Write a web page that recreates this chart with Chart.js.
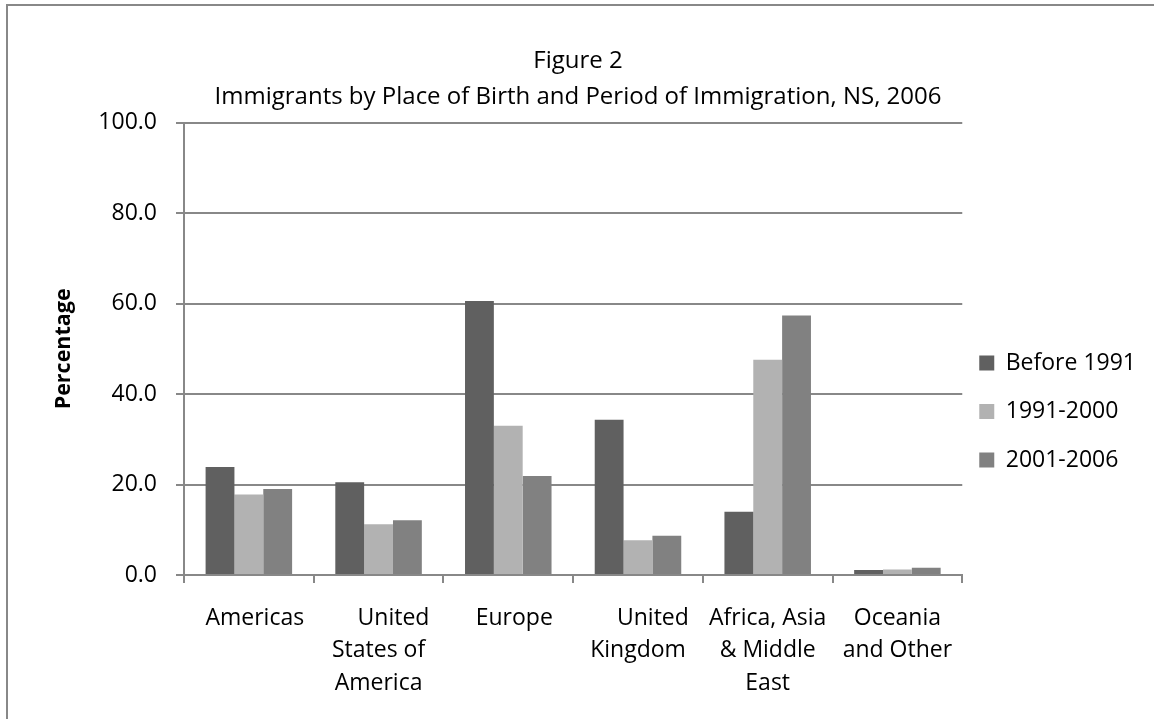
<!DOCTYPE html>
<html>
<head>
<meta charset="utf-8">
<script src="https://cdn.jsdelivr.net/npm/chart.js@4.4.1/dist/chart.umd.min.js"></script>
<style>
html,body{margin:0;padding:0;background:#fff;overflow:hidden;}
#wrap{position:relative;width:1154px;height:719px;}
#frame{position:absolute;left:6px;top:4px;right:-10px;bottom:-10px;border-top:2px solid #888;border-left:2px solid #888;pointer-events:none;}
canvas{display:block;}
</style>
</head>
<body>
<div id="wrap">
<canvas id="c" width="1154" height="719"></canvas>
<div id="frame"></div>
</div>
<script>
const titleLines = ["Figure 2", "Immigrants by Place of Birth and Period of Immigration, NS, 2006"];
const yAxisTitle = "Percentage";
const categories = [
  ["  Americas"],
  ["     United", "States of", "America"],
  ["  Europe"],
  ["     United", "Kingdom"],
  ["Africa, Asia", "& Middle", "East"],
  ["Oceania", "and Other"]
];
const seriesNames = ["Before 1991", "1991-2000", "2001-2006"];
const before1991 = [23.9, 20.5, 60.6, 34.3, 14.0, 1.1];
const p1991to2000 = [17.8, 11.2, 33.0, 7.7, 47.6, 1.2];
const p2001to2006 = [19.0, 12.1, 21.9, 8.7, 57.4, 1.6];
const yMin = 0, yMax = 100, yStep = 20;
const seriesColors = ["#606060", "#b2b2b2", "#818181"];

const FONT = "'Open Sans', 'Liberation Sans', sans-serif";
const GRID = "#888888";

const ctx = document.getElementById('c').getContext('2d');
new Chart(ctx, {
  type: 'bar',
  data: {
    labels: categories,
    datasets: [
      { label: seriesNames[0], data: before1991, backgroundColor: seriesColors[0] },
      { label: seriesNames[1], data: p1991to2000, backgroundColor: seriesColors[1] },
      { label: seriesNames[2], data: p2001to2006, backgroundColor: seriesColors[2] }
    ]
  },
  options: {
    responsive: false,
    animation: false,
    devicePixelRatio: 1,
    layout: { padding: { left: 10, right: 8, top: 0, bottom: 0 } },
    datasets: { bar: { categoryPercentage: 0.667, barPercentage: 1.0, borderWidth: 0 } },
    plugins: {
      tooltip: { enabled: false },
      title: {
        display: true,
        text: titleLines,
        color: '#000',
        font: { family: FONT, size: 24, weight: 'normal', lineHeight: 1.5 },
        padding: { top: 43, bottom: 7.7 }
      },
      legend: {
        display: true,
        position: 'right',
        align: 'center',
        title: { display: true, text: ' ', font: { size: 10, lineHeight: 1 }, padding: { top: 102.5, bottom: 0 } },
        labels: {
          color: '#000',
          boxWidth: 15,
          boxHeight: 15,
          padding: 17,
          font: { family: FONT, size: 23, lineHeight: 1.37 },
          generateLabels: function(chart) {
            const items = Chart.defaults.plugins.legend.labels.generateLabels(chart);
            items.forEach(it => { it.text = [it.text]; it.lineWidth = 0; it.strokeStyle = 'rgba(0,0,0,0)'; });
            return items;
          }
        }
      }
    },
    scales: {
      x: {
        offset: true,
        grid: { display: true, drawOnChartArea: false, drawTicks: true, tickLength: 8, color: GRID, lineWidth: 2, offset: true },
        border: { display: true, color: GRID, width: 2 },
        ticks: {
          color: '#000',
          padding: 19,
          maxRotation: 0,
          autoSkip: false,
          font: { family: FONT, size: 23, lineHeight: 1.413 }
        },
        afterFit: function(scale) { scale.height = 144; }
      },
      y: {
        min: yMin,
        max: yMax,
        grid: { color: GRID, lineWidth: 2, tickLength: 8, drawTicks: true },
        border: { display: true, color: GRID, width: 2 },
        ticks: {
          stepSize: yStep,
          color: '#000',
          padding: 19,
          font: { family: FONT, size: 23 },
          callback: function(v) { return Number(v).toFixed(1); }
        },
        title: {
          display: true,
          text: yAxisTitle,
          color: '#000',
          font: { family: FONT, size: 21.5, weight: 'bold', lineHeight: 1.2 },
          padding: { top: 40.6, bottom: 0 }
        },
        afterFit: function(scale) { scale.width = 174; }
      }
    }
  }
});
</script>
</body>
</html>
